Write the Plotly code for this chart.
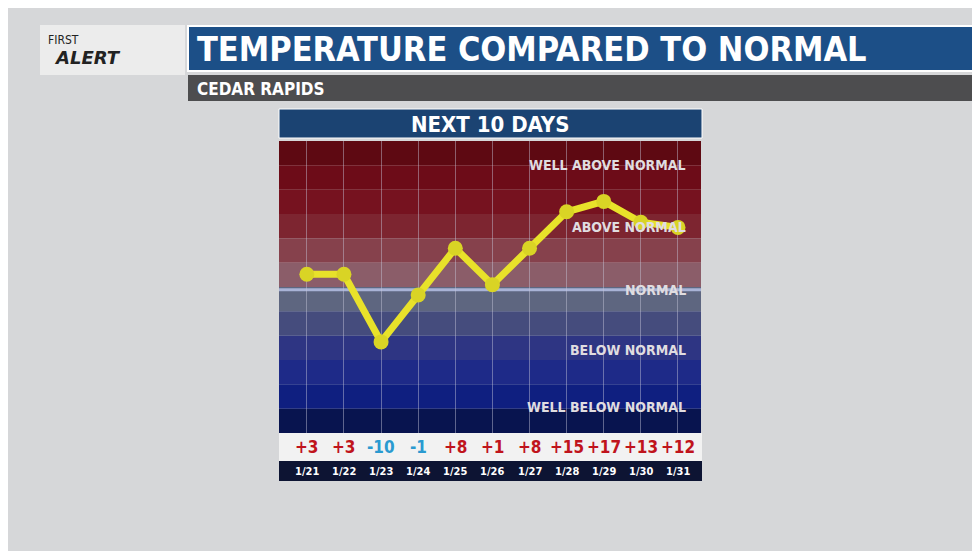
import plotly.graph_objects as go

days = ["1/21","1/22","1/23","1/24","1/25","1/26","1/27","1/28","1/29","1/30","1/31"]
departures = [3, 3, -10, -1, 8, 1, 8, 15, 17, 13, 12]
category_labels = ["WELL ABOVE NORMAL", "ABOVE NORMAL", "NORMAL", "BELOW NORMAL", "WELL BELOW NORMAL"]
category_levels = [24, 12, 0, -11.5, -22.5]
band_colors = ["#5e0912", "#6d0c18", "#76121f", "#7d2530", "#86414c", "#8b5d69",
               "#5e6680", "#454c7d", "#2e3583", "#1e2a88", "#0f1f80", "#08144f"]

OFF = 8
W, H = 980 - OFF, 551 - OFF
def py(p): return 1 - (p - OFF) / H
def px(p): return (p - OFF) / W

x_idx = list(range(len(days)))
FONT = "DejaVu Sans Condensed"

fig = go.Figure()
fig.add_trace(go.Scatter(x=x_idx, y=departures, mode="lines+markers",
                         line=dict(color="#e8e22a", width=7),
                         marker=dict(size=15, color="#d9d425"),
                         hoverinfo="skip"))

shapes = []
shapes.append(dict(type="rect", xref="paper", yref="paper", x0=px(40), x1=px(185), y0=py(75), y1=py(25),
                   fillcolor="#ececec", line_width=0, layer="below"))
shapes.append(dict(type="rect", xref="paper", yref="paper", x0=px(188), x1=1, y0=py(71), y1=py(26),
                   fillcolor="#1c4f87", line=dict(color="#ffffff", width=2), layer="below"))
shapes.append(dict(type="rect", xref="paper", yref="paper", x0=px(188), x1=1, y0=py(101), y1=py(75),
                   fillcolor="#4d4d4f", line_width=0, layer="below"))
shapes.append(dict(type="rect", xref="paper", yref="paper", x0=px(279), x1=px(702), y0=py(138), y1=py(109),
                   fillcolor="#1b4372", line=dict(color="#ffffff", width=1), layer="below"))
shapes.append(dict(type="rect", xref="paper", yref="paper", x0=px(279), x1=px(702), y0=py(461), y1=py(433),
                   fillcolor="#f2f2f2", line_width=0, layer="below"))
shapes.append(dict(type="rect", xref="paper", yref="paper", x0=px(279), x1=px(702), y0=py(481), y1=py(461),
                   fillcolor="#0d1433", line_width=0, layer="below"))
n = len(band_colors)
for i, c in enumerate(band_colors):
    shapes.append(dict(type="rect", xref="x domain", yref="y domain", x0=0, x1=1,
                       y0=1 - (i + 1) / n, y1=1 - i / n, fillcolor=c, line_width=0, layer="below"))
shapes.append(dict(type="line", xref="x domain", yref="y", x0=0, x1=1, y0=0, y1=0,
                   line=dict(color="#a9b3d6", width=3), layer="below"))
fig.update_layout(shapes=shapes)

ann = []
def A(**k):
    k.setdefault("xanchor", "center")
    k.setdefault("yanchor", "middle")
    k["showarrow"] = False
    ann.append(k)

A(text="FIRST", xref="paper", yref="paper", x=px(46), y=py(40), xanchor="left",
  font=dict(family="DejaVu Sans Condensed", size=12, color="#222"))
A(text="<b><i>ALERT</i></b>", xref="paper", yref="paper", x=px(52), y=py(58), xanchor="left",
  font=dict(family="DejaVu Sans", size=18, color="#222"))
A(text="<b>TEMPERATURE COMPARED TO NORMAL</b>", xref="paper", yref="paper", x=px(195), y=py(49),
  xanchor="left", font=dict(family=FONT, size=34, color="white"))
A(text="<b>CEDAR RAPIDS</b>", xref="paper", yref="paper", x=px(195), y=py(89),
  xanchor="left", font=dict(family=FONT, size=17, color="white"))
A(text="<b>NEXT 10 DAYS</b>", xref="paper", yref="paper", x=px(490), y=py(124),
  font=dict(family=FONT, size=22, color="white"))
for lbl, lvl in zip(category_labels, category_levels):
    A(text="<b>%s</b>" % lbl, xref="x domain", yref="y", x=0.97, y=lvl, xanchor="right",
      font=dict(family=FONT, size=14, color="#e0dde0"))
for i, (d, v) in enumerate(zip(days, departures)):
    A(text="<b>%+d</b>" % v, xref="x", yref="paper", x=i, y=py(447),
      font=dict(family=FONT, size=17, color="#c0141c" if v > 0 else "#2a9ad0"))
    A(text="<b>%s</b>" % d, xref="x", yref="paper", x=i, y=py(471),
      font=dict(family=FONT, size=11, color="white"))
fig.update_layout(annotations=ann)

fig.update_layout(
    width=W, height=H, margin=dict(l=0, r=0, t=0, b=0),
    paper_bgcolor="#d6d7d9", plot_bgcolor="rgba(0,0,0,0)", showlegend=False,
    xaxis=dict(domain=[px(279), px(701)], range=[-0.75, 10.62], tickvals=x_idx,
               showticklabels=False, showgrid=True, gridcolor="rgba(200,200,220,0.45)", gridwidth=1,
               zeroline=False, fixedrange=True),
    yaxis=dict(domain=[py(433), py(141)], range=[-27.5, 28.6], showticklabels=False,
               showgrid=False, zeroline=False, fixedrange=True),
)
fig.write_html("out.html")
